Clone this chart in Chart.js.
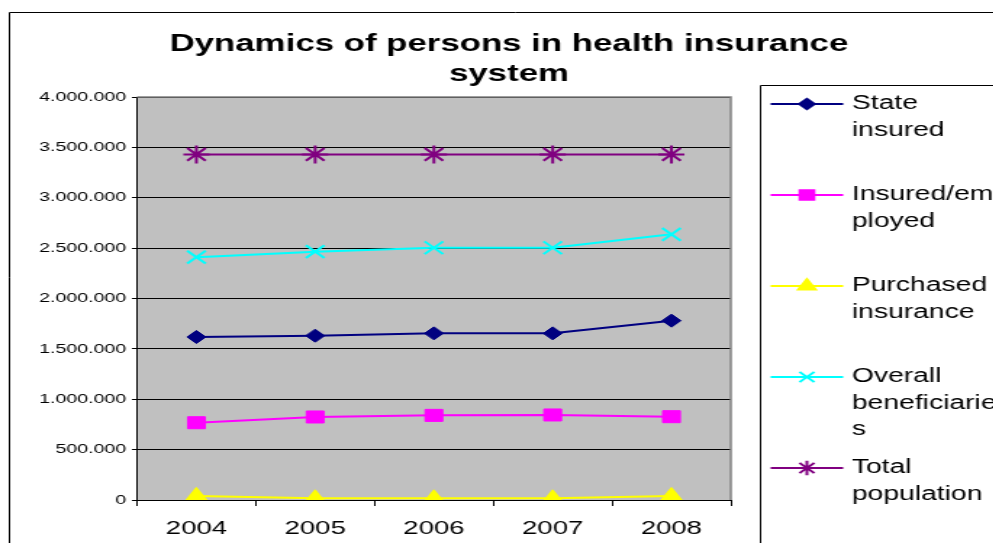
<!DOCTYPE html>
<html>
<head>
<meta charset="utf-8">
<script src="https://cdn.jsdelivr.net/npm/chart.js@4/dist/chart.umd.min.js"></script>
<style>
  html, body { margin: 0; padding: 0; background: #fff; overflow: hidden; }
  #wrap { width: 993px; height: 543px; overflow: hidden; }
  /* the original picture is an Excel chart stretched sideways */
  canvas { display: block; transform: scaleX(1.45); transform-origin: 0 0; }
</style>
</head>
<body>
<div id="wrap"><canvas id="chart" width="704" height="543" style="width:704px;height:543px"></canvas></div>
<script>
/* Dynamics of persons in health insurance system — Excel-style line chart */
const years = ['2004', '2005', '2006', '2007', '2008'];
const stateInsured = [1618000, 1631000, 1654000, 1654000, 1780000];
const insuredEmployed = [767000, 824000, 840000, 844000, 827000];
const purchasedInsurance = [40000, 17000, 17000, 17000, 40000];
const overallBeneficiaries = [2410000, 2465000, 2504000, 2504000, 2637000];
const totalPopulation = [3430000, 3430000, 3430000, 3430000, 3430000];

const seriesNames = ['State insured', 'Insured/employed', 'Purchased insurance', 'Overall beneficiaries', 'Total population'];
// legend text, wrapped the way the original box wraps it
const legendLines = [['State', 'insured'], ['Insured/em', 'ployed'], ['Purchased', 'insurance'], ['Overall', 'beneficiarie', 's'], ['Total', 'population']];
const titleLines = ['Dynamics of persons in health insurance', 'system'];
const yMax = 4000000;
const yStep = 500000;

const colors = ['#000080', '#FF00FF', '#FFFF00', '#00FFFF', '#800080'];
const markers = ['rectRot', 'rect', 'triangle', 'crossRot', 'star'];
const markerSize = [6.5, 8.5, 8.5, 9, 9];
const seriesValues = [stateInsured, insuredEmployed, purchasedInsurance, overallBeneficiaries, totalPopulation];

const FONT = '"Liberation Sans", Arial, sans-serif';
Chart.defaults.font.family = FONT;
Chart.defaults.color = '#000';

const fmt = v => String(v).replace(/\B(?=(\d{3})+(?!\d))/g, '.');

const excelFrame = {
    id: 'excelFrame',
    beforeDraw(chart) {
        const { ctx, chartArea: a } = chart;
        ctx.save();
        ctx.fillStyle = '#c0c0c0';
        ctx.fillRect(a.left, a.top, a.right - a.left, a.bottom - a.top);
        ctx.strokeStyle = '#000';
        ctx.lineWidth = 1;
        ctx.beginPath();
        ctx.moveTo(6.5, chart.height);
        ctx.lineTo(6.5, 12.5);
        ctx.lineTo(chart.width, 12.5);
        ctx.stroke();
        ctx.restore();
    },
    beforeDatasetsDraw(chart) {
        const { ctx, chartArea: a } = chart;
        ctx.save();
        ctx.strokeStyle = '#808080';
        ctx.lineWidth = 1.5;
        ctx.beginPath();
        ctx.moveTo(a.left, a.top);
        ctx.lineTo(a.right, a.top);
        ctx.lineTo(a.right, a.bottom);
        ctx.stroke();
        ctx.restore();
    },
    afterDraw(chart) {
        const ctx = chart.ctx;
        ctx.save();
        // title
        ctx.fillStyle = '#000';
        ctx.font = 'bold 24px ' + FONT;
        ctx.textAlign = 'center';
        ctx.textBaseline = 'middle';
        titleLines.forEach((t, i) => ctx.fillText(t, 351, 44 + i * 30));

        // legend box
        ctx.strokeStyle = '#000';
        ctx.lineWidth = 1;
        ctx.beginPath();
        ctx.moveTo(524.5, chart.height);
        ctx.lineTo(524.5, 85.5);
        ctx.lineTo(chart.width, 85.5);
        ctx.stroke();

        legendLines.forEach((lines, i) => {
            const y = 104 + i * 91;
            ctx.strokeStyle = colors[i];
            ctx.fillStyle = colors[i];
            ctx.lineWidth = 2;
            ctx.beginPath();
            ctx.moveTo(531.5, y);
            ctx.lineTo(581.5, y);
            ctx.stroke();
            Chart.helpers.drawPoint(ctx, { pointStyle: markers[i], radius: markerSize[i] * 0.8, rotation: 0, borderWidth: 2 }, 556.5, y);
            ctx.fillStyle = '#000';
            ctx.font = '19.5px ' + FONT;
            ctx.textAlign = 'left';
            lines.forEach((t, j) => ctx.fillText(t, 587.5, y + j * 26.5));
        });
        ctx.restore();
    }
};

new Chart(document.getElementById('chart'), {
    type: 'line',
    data: {
        labels: years,
        datasets: seriesValues.map((vals, i) => ({
            label: seriesNames[i],
            data: vals,
            borderColor: colors[i],
            backgroundColor: colors[i],
            borderWidth: 2,
            tension: 0,
            fill: false,
            pointStyle: markers[i],
            pointRadius: markerSize[i],
            pointHoverRadius: markerSize[i],
            pointBackgroundColor: colors[i],
            pointBorderColor: colors[i],
            pointBorderWidth: (markers[i] === 'crossRot' || markers[i] === 'star') ? 2 : 1
        }))
    },
    options: {
        responsive: false,
        animation: false,
        layout: { padding: { left: 0, top: 97, right: 200, bottom: 0 } },
        plugins: { legend: { display: false }, title: { display: false }, tooltip: { enabled: false } },
        scales: {
            x: {
                offset: true,
                grid: { offset: true, drawOnChartArea: false, color: '#000', tickLength: 6 },
                border: { color: '#000', width: 1 },
                ticks: { font: { size: 19 }, padding: 11, color: '#000', maxRotation: 0 },
                afterFit(scale) { scale.height = 43; }
            },
            y: {
                min: 0,
                max: yMax,
                grid: { color: '#000', lineWidth: 1, tickLength: 3.5 },
                border: { color: '#000', width: 1 },
                ticks: { stepSize: yStep, font: { size: 13.5 }, padding: 4, color: '#000', callback: v => fmt(v) },
                afterFit(scale) { scale.width = 94.5; }
            }
        }
    },
    plugins: [excelFrame]
});
</script>
</body>
</html>
